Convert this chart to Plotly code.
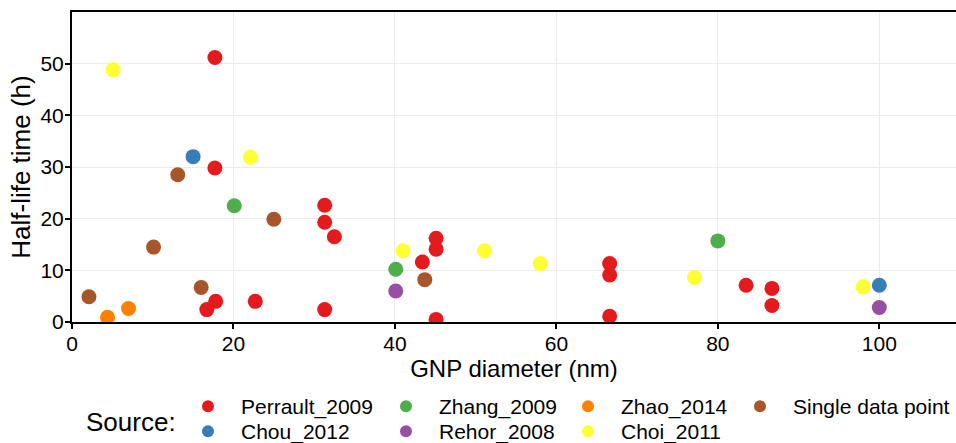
import plotly.graph_objects as go

# ---- data ----
sources = ["Perrault_2009", "Chou_2012", "Zhang_2009", "Rehor_2008",
           "Zhao_2014", "Choi_2011", "Single data point"]
colors = ["#E41A1C", "#377EB8", "#4DAF4A", "#984EA3", "#FF7F00", "#FFFF33", "#A65628"]

perrault_x = [17.7, 17.7, 17.8, 16.7, 22.7, 31.3, 31.3, 32.5, 31.3, 43.4, 45.1, 45.1, 45.1,
              66.6, 66.6, 66.6, 83.5, 86.7, 86.7]
perrault_y = [51.2, 29.8, 4.0, 2.4, 4.0, 22.6, 19.3, 16.5, 2.4, 11.6, 16.2, 14.1, 0.5,
              11.3, 9.1, 1.1, 7.1, 6.5, 3.2]
chou_x = [15.0, 100.0]
chou_y = [32.0, 7.1]
zhang_x = [20.1, 40.1, 80.0]
zhang_y = [22.5, 10.2, 15.7]
rehor_x = [40.1, 100.0]
rehor_y = [6.0, 2.8]
zhao_x = [4.4, 7.0]
zhao_y = [0.9, 2.6]
choi_x = [5.1, 22.1, 41.0, 51.1, 58.0, 77.1, 98.0]
choi_y = [48.8, 31.9, 13.8, 13.8, 11.3, 8.6, 6.8]
single_x = [2.1, 10.1, 13.1, 16.0, 25.0, 43.7]
single_y = [4.9, 14.5, 28.5, 6.7, 19.9, 8.2]

series_x = [perrault_x, chou_x, zhang_x, rehor_x, zhao_x, choi_x, single_x]
series_y = [perrault_y, chou_y, zhang_y, rehor_y, zhao_y, choi_y, single_y]

x_ticks = [0, 20, 40, 60, 80, 100]
y_ticks = [0, 10, 20, 30, 40, 50]

FONT = "Liberation Sans, Arial, sans-serif"
W, H = 956, 443
ML, MR, MT, MB = 72, 0, 12, 121
PW, PH = W - ML - MR, H - MT - MB


def px_to_paper_x(px):
    return (px - ML) / PW


def px_to_paper_y(py):
    return (H - MB - py) / PH


fig = go.Figure()
legend_names = ["legend", "legend2", "legend3", "legend4", "legend5", "legend6", "legend7"]
for i, (name, col) in enumerate(zip(sources, colors)):
    fig.add_trace(go.Scatter(
        x=series_x[i], y=series_y[i], mode="markers", name=name,
        marker=dict(color=col, size=15, line=dict(width=0)),
        legend=legend_names[i], showlegend=True,
    ))

# legend placement (marker centre x, row centre y) in pixels
leg_pos = [(208, 406.5), (208, 431.5), (406, 406.5), (406, 431.5),
           (588, 406.5), (588, 431.5), (760, 406.5)]
ITEMW = 56
legend_layouts = {}
for ln, (mx, my) in zip(legend_names, leg_pos):
    legend_layouts[ln] = dict(
        xref="paper", yref="paper",
        x=px_to_paper_x(mx - (ITEMW + 10) / 2), y=px_to_paper_y(my),
        xanchor="left", yanchor="middle",
        orientation="v", itemsizing="constant", itemwidth=ITEMW,
        font=dict(family=FONT, size=21, color="black"),
        bgcolor="rgba(0,0,0,0)", borderwidth=0,
        itemclick=False, itemdoubleclick=False,
    )

fig.update_layout(
    width=W, height=H,
    margin=dict(l=ML, r=MR, t=MT, b=MB, pad=0, autoexpand=False),
    paper_bgcolor="white", plot_bgcolor="white",
    font=dict(family=FONT, color="black"),
    xaxis=dict(
        range=[0, 109.5], tickvals=x_ticks, ticktext=[str(v) for v in x_ticks],
        showgrid=True, gridcolor="#EBEBEB", gridwidth=1, zeroline=False,
        showline=True, linecolor="black", linewidth=2, mirror=True,
        ticks="outside", ticklen=5, tickwidth=1.5, tickcolor="black",
        ticklabelstandoff=-3,
        tickfont=dict(family=FONT, size=21, color="black"),
        title=dict(text="GNP diameter (nm)", font=dict(family=FONT, size=24, color="black"),
                   standoff=0),
    ),
    yaxis=dict(
        range=[0, 60], tickvals=y_ticks, ticktext=[str(v) for v in y_ticks],
        showgrid=True, gridcolor="#EBEBEB", gridwidth=1, zeroline=False,
        showline=True, linecolor="black", linewidth=2,
        ticks="outside", ticklen=5, tickwidth=1.5, tickcolor="black",
        ticklabelstandoff=-3,
        tickfont=dict(family=FONT, size=21, color="black"),
        title=dict(text="Half-life time (h)", font=dict(family=FONT, size=26, color="black"),
                   standoff=2),
    ),
    annotations=[dict(
        text="Source:", xref="paper", yref="paper",
        x=px_to_paper_x(84), y=px_to_paper_y(421.7),
        xanchor="left", yanchor="middle", showarrow=False,
        font=dict(family=FONT, size=26, color="black"),
    )],
    **legend_layouts,
)

fig.write_html("out.html")
